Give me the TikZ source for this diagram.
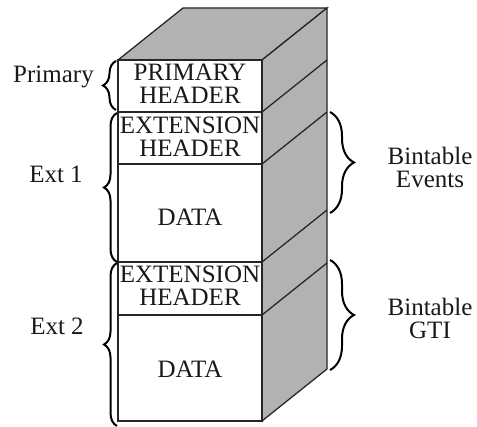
\documentclass[tikz,border=0pt]{standalone}
\usepackage{fontspec}
\setmainfont{Liberation Serif}
\usetikzlibrary{decorations.pathreplacing}
\definecolor{sidegray}{rgb}{0.70,0.70,0.70}
\definecolor{edge}{rgb}{0.15,0.15,0.15}
\tikzset{
  face/.style={draw=edge,line width=1.3pt,line join=miter},
  sideface/.style={face,fill=sidegray},
  lbl/.style={font=\fontsize{25}{23}\selectfont,inner sep=0pt,align=center,text=black!90},
  lbrace/.style={decorate,decoration={brace,amplitude=13pt},line width=2pt,draw=black},
  rbrace/.style={decorate,decoration={brace,amplitude=24pt},line width=2pt,draw=black},
}
\begin{document}
\begin{tikzpicture}[x=1pt,y=-1pt]
\useasboundingbox (0,0) rectangle (477,427);
% top and side faces
\draw[sideface] (118,60) -- (183,8) -- (327,8) -- (262,60) -- cycle;
\draw[sideface] (262,60) -- (327,8) -- (327,369) -- (262,421) -- cycle;
% section lines on side face
\draw[face] (262,112) -- (327,60);
\draw[face] (262,164) -- (327,112);
\draw[face] (262,262) -- (327,210);
\draw[face] (262,315) -- (327,263);
% front sections
\draw[face,fill=white] (118,60) rectangle (262,112);
\draw[face,fill=white] (118,112) rectangle (262,164);
\draw[face,fill=white] (118,164) rectangle (262,262);
\draw[face,fill=white] (118,262) rectangle (262,315);
\draw[face,fill=white] (118,315) rectangle (262,421);
% section texts
\node[lbl] (ph) at (190,83.5) {PRIMARY\\HEADER};
\node[lbl] (e1h) at (190,136.5) {EXTENSION\\HEADER};
\node[lbl] (d1) at (190,217.5) {DATA};
\node[lbl] (e2h) at (190,286) {EXTENSION\\HEADER};
\node[lbl] (d2) at (190,369.5) {DATA};
% left labels
\node[lbl,anchor=base] (prim) at (53.5,83) {Primary};
\node[lbl,anchor=base] (ext1) at (56,183) {Ext 1};
\node[lbl,anchor=base] (ext2) at (57,335) {Ext 2};
% right labels
\node[lbl] (bev) at (430,167) {Bintable\\Events};
\node[lbl] (bgti) at (430,318) {Bintable\\GTI};
% brace end points
\coordinate (pb1) at (116,110);
\coordinate (pb2) at (116,61);
\coordinate (e1b1) at (117,262);
\coordinate (e1b2) at (117,113);
\coordinate (e2b1) at (117,426);
\coordinate (e2b2) at (117,263);
\coordinate (rb1) at (330,112);
\coordinate (rb2) at (330,213);
\coordinate (rg1) at (330,260);
\coordinate (rg2) at (330,370);
\draw[lbrace] (pb1) -- (pb2);
\draw[lbrace] (e1b1) -- (e1b2);
\draw[lbrace] (e2b1) -- (e2b2);
\draw[rbrace] (rb1) -- (rb2);
\draw[rbrace] (rg1) -- (rg2);
\end{tikzpicture}
\end{document}
